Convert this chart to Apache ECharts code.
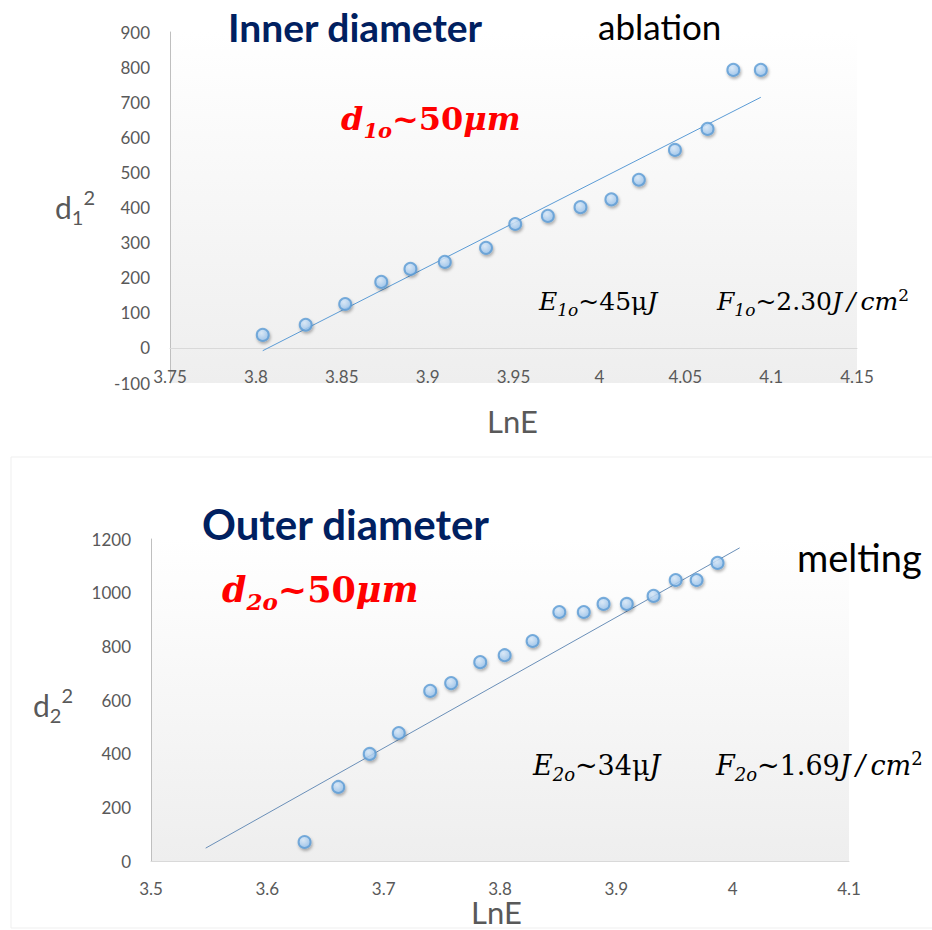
<!DOCTYPE html>
<html>
<head>
<meta charset="utf-8">
<title>Inner / outer diameter vs LnE</title>
<script src="https://cdn.jsdelivr.net/npm/echarts@6/dist/echarts.min.js"></script>
<style>
  html, body { margin: 0; padding: 0; background: #fff; }
  #chart { width: 932px; height: 930px; }
</style>
</head>
<body>
<div id="chart"></div>
<script>
// inner diameter (ablation)
const innerLnE = [3.804, 3.829, 3.852, 3.873, 3.890, 3.910, 3.934, 3.951, 3.970, 3.989, 4.007, 4.023, 4.044, 4.063, 4.078, 4.094]
const innerD2 = [37, 66, 125, 188, 225, 245, 285, 353, 376, 401, 423, 479, 564, 624, 792, 792]
const innerTrend = [[3.804, -8], [4.094, 714]] // trendline end points

// outer diameter (melting)
const outerLnE = [3.632, 3.661, 3.688, 3.713, 3.740, 3.758, 3.783, 3.804, 3.828, 3.851, 3.872, 3.889, 3.909, 3.932, 3.951, 3.969, 3.987]
const outerD2 = [71, 276, 399, 477, 634, 663, 741, 767, 820, 928, 928, 958, 958, 988, 1047, 1047, 1111]
const outerTrend = [[3.547, 48], [4.006, 1167]]

// axis ranges
const innerXRange = [3.75, 4.15, 0.05]
const innerYRange = [-100, 900, 100]
const outerXRange = [3.5, 4.1, 0.1]
const outerYRange = [0, 1200, 200]

const gray = '#595959'
const navy = '#002060'
const sans = 'Lato'
const serif = 'DejaVu Serif'

const pairs = (xs, ys) => xs.map((x, i) => [x, ys[i]])

const plotBg = new echarts.graphic.LinearGradient(0, 0, 0, 1, [
  { offset: 0, color: '#ffffff' },
  { offset: 1, color: '#eeeeee' },
])

const dotStyle = {
  color: {
    type: 'radial', x: 0.4, y: 0.35, r: 0.7,
    colorStops: [{ offset: 0, color: '#dcedfd' }, { offset: 1, color: '#92c0ee' }],
  },
  borderColor: '#5b9bd5',
  borderWidth: 2,
  shadowBlur: 3,
  shadowColor: 'rgba(0,0,0,0.35)',
  shadowOffsetX: 1,
  shadowOffsetY: 2,
}

const xAxisBase = (r, gridIndex, margin) => ({
  type: 'value',
  gridIndex: gridIndex,
  min: r[0], max: r[1], interval: r[2],
  axisLine: { onZero: true, lineStyle: { color: '#d9d9d9', width: 1 } },
  axisTick: { show: false },
  splitLine: { show: false },
  axisLabel: { color: gray, fontFamily: sans, fontSize: 17, margin: margin, formatter: v => String(v) },
})

const yAxisBase = (r, gridIndex) => ({
  type: 'value',
  gridIndex: gridIndex,
  min: r[0], max: r[1], interval: r[2],
  axisLine: { show: true, onZero: false, lineStyle: { color: '#bfbfbf', width: 1 } },
  axisTick: { show: false },
  splitLine: { show: false },
  axisLabel: { color: gray, fontFamily: sans, fontSize: 17, margin: 20, formatter: v => String(v) },
})

// rich text styles for the math labels
const mathRich = (size, color, bold) => {
  const w = bold ? 'bold' : 'normal'
  const lh = Math.round(size * 1.35)
  const sub = Math.round(size * 0.66)
  return {
    it: { fontFamily: serif, fontStyle: 'italic', fontWeight: w, fontSize: size, fill: color, lineHeight: lh },
    up: { fontFamily: serif, fontStyle: 'normal', fontWeight: w, fontSize: size, fill: color, lineHeight: lh },
    sub: { fontFamily: serif, fontStyle: 'italic', fontWeight: w, fontSize: sub, fill: color, lineHeight: sub, verticalAlign: 'bottom' },
    sup: { fontFamily: serif, fontStyle: 'normal', fontWeight: w, fontSize: sub, fill: color, lineHeight: sub, verticalAlign: 'top', padding: [2, 0, 0, 0] },
  }
}

const axisNameRich = {
  d: { fontFamily: sans, fontSize: 30, fill: gray, lineHeight: 40 },
  sub: { fontFamily: sans, fontSize: 20, fill: gray, lineHeight: 20, verticalAlign: 'bottom' },
  sup: { fontFamily: sans, fontSize: 20, fill: gray, lineHeight: 20, verticalAlign: 'top' },
}

const txt = (x, y, text, style) => ({
  type: 'text', x: x, y: y,
  style: Object.assign({ text: text, verticalAlign: 'middle' }, style),
})

const option = {
  backgroundColor: '#ffffff',
  animation: false,
  grid: [
    { left: 170, top: 32, width: 687, height: 351, show: true, backgroundColor: plotBg, borderWidth: 0 },
    { left: 151, top: 539, width: 698, height: 322, show: true, backgroundColor: plotBg, borderWidth: 0 },
  ],
  // top x labels sit just under the zero line, inside the plot area
  xAxis: [xAxisBase(innerXRange, 0, -15), xAxisBase(outerXRange, 1, 19)],
  yAxis: [yAxisBase(innerYRange, 0), yAxisBase(outerYRange, 1)],
  series: [
    {
      type: 'line', xAxisIndex: 0, yAxisIndex: 0, data: innerTrend,
      symbol: 'none', lineStyle: { color: '#5b9bd5', width: 1 }, z: 2,
    },
    {
      type: 'scatter', xAxisIndex: 0, yAxisIndex: 0, data: pairs(innerLnE, innerD2),
      symbolSize: 12, itemStyle: dotStyle, z: 3,
    },
    {
      type: 'line', xAxisIndex: 1, yAxisIndex: 1, data: outerTrend,
      symbol: 'none', lineStyle: { color: '#6a8fb8', width: 1 }, z: 2,
    },
    {
      type: 'scatter', xAxisIndex: 1, yAxisIndex: 1, data: pairs(outerLnE, outerD2),
      symbolSize: 12, itemStyle: dotStyle, z: 3,
    },
  ],
  graphic: [
    // faint frame round the lower chart
    {
      type: 'rect', shape: { x: 11, y: 457, width: 940, height: 471 }, z: -10, silent: true,
      style: { fill: 'none', stroke: '#efefef', lineWidth: 1 },
    },
    // upper chart texts
    txt(228, 27, 'Inner diameter', { fontFamily: sans, fontWeight: 'bold', fontSize: 39, fill: navy }),
    txt(598, 26, 'ablation', { fontFamily: sans, fontSize: 35, fill: '#000' }),
    txt(341, 119, '{it|d}{sub|1o}{up|~50}{it|μm}', { rich: mathRich(32, '#ff0000', true) }),
    txt(539, 301, '{it|E}{sub|1o}{up|~45μ}{it|J}', { rich: mathRich(25, '#000', false) }),
    txt(717, 301, '{it|F}{sub|1o}{up|~2.30}{it|J\u2009/\u2009cm}{sup|2}', { rich: mathRich(25, '#000', false) }),
    txt(55, 207, '{d|d}{sub|1}{sup|2}', { rich: axisNameRich }),
    txt(487, 421, 'LnE', { fontFamily: sans, fontSize: 31, fill: gray }),
    // lower chart texts
    txt(202, 524, 'Outer diameter', { fontFamily: sans, fontWeight: 'bold', fontSize: 42, fill: navy }),
    txt(797, 557, 'melting', { fontFamily: sans, fontSize: 38, fill: '#000' }),
    txt(222, 589, '{it|d}{sub|2o}{up|~50}{it|μm}', { rich: mathRich(35, '#ff0000', true) }),
    txt(533, 765, '{it|E}{sub|2o}{up|~34μ}{it|J}', { rich: mathRich(27, '#000', false) }),
    txt(716, 765, '{it|F}{sub|2o}{up|~1.69}{it|J\u2009/\u2009cm}{sup|2}', { rich: mathRich(27, '#000', false) }),
    txt(33, 705, '{d|d}{sub|2}{sup|2}', { rich: axisNameRich }),
    txt(471, 912, 'LnE', { fontFamily: sans, fontSize: 31, fill: gray }),
  ],
}

const chart = echarts.init(document.getElementById('chart'), null, { renderer: 'svg' })
chart.setOption(option)
</script>
</body>
</html>
